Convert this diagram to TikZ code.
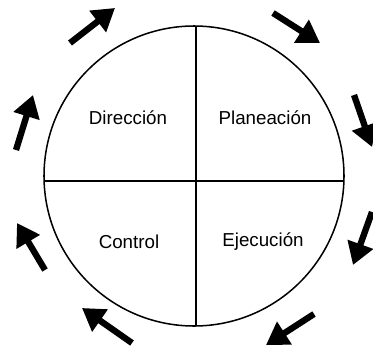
\documentclass[tikz,border=0pt]{standalone}
\usepackage{fontspec}
\setmainfont{Liberation Sans}
\usetikzlibrary{arrows.meta}
\definecolor{inkc}{HTML}{000000}

\begin{document}
\begin{tikzpicture}[x=0.03cm, y=0.03cm, font=\fontsize{16}{18}\selectfont,
  cyc/.style={inkc, line width=0.19cm, -{Triangle[length=0.66cm, width=0.78cm]}},
  part/.style={inkc, anchor=center}]
  \useasboundingbox (0,0) rectangle (373,350);

  % circle and quadrants
  \coordinate (c) at (194,174);
  \draw[inkc, line width=1.3pt] (c) circle[radius=150];
  \coordinate (hl) at (44.1,169);
  \coordinate (hr) at (343.9,169);
  \coordinate (vt) at (196,324);
  \coordinate (vb) at (196,24);
  \draw[inkc, line width=1.3pt] (hl) -- (hr);
  \draw[inkc, line width=1.3pt] (vt) -- (vb);

  % labels
  \node[part] (dir) at (128,232) {Dirección};
  \node[part] (pla) at (265,232) {Planeación};
  \node[part] (con) at (129,108) {Control};
  \node[part] (eje) at (263,108) {Ejecución};

  % cycle arrows
  \foreach \i/\ax/\ay/\bx/\by in {1/70/307/115/342, 2/273/337/320/307,
      3/354/255/372/203, 4/372/138/353/85, 5/314/36/266/5,
      6/132/7/82/42, 7/45/80/17/127, 8/16/200/33/255} {
    \coordinate (tail\i) at (\ax,\ay);
    \coordinate (tip\i) at (\bx,\by);
    \draw[cyc] (tail\i) -- (tip\i);
  }
\end{tikzpicture}
\end{document}
